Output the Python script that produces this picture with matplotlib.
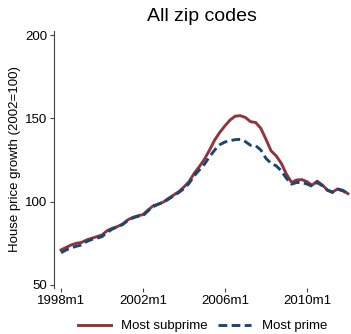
import matplotlib
matplotlib.use('Agg')

import matplotlib.pyplot as plt
import numpy as np

plt.rcParams['font.family'] = ['Liberation Sans', 'DejaVu Sans']

# quarterly observations, 1998q1 .. 2012q1
quarters = np.arange(1998.0, 2012.01, 0.25)

subprime = [71.0, 72.5, 74.0, 75.0, 75.5, 77.0, 78.0, 79.0,
            80.0, 82.5, 84.0, 85.0, 86.5, 89.0, 90.5, 91.5,
            92.2, 95.0, 97.5, 98.5, 99.8, 102.0, 104.0, 106.0,
            108.8, 112.0, 117.0, 121.0, 125.5, 131.0, 137.0, 141.6,
            145.5, 149.0, 151.3, 151.6, 150.5, 148.0, 147.5, 144.0,
            137.5, 130.5, 127.5, 123.0, 116.5, 111.5, 113.0, 113.2,
            112.0, 109.8, 112.3, 110.0, 107.0, 105.8, 107.6, 106.8,
            104.8]

prime = [69.3, 71.0, 72.3, 73.2, 74.0, 76.0, 77.3, 78.0,
         79.0, 81.5, 83.5, 84.8, 86.2, 88.5, 90.2, 91.2,
         91.5, 94.5, 97.0, 98.5, 99.6, 101.5, 103.5, 105.5,
         107.8, 111.0, 115.5, 119.0, 122.5, 127.0, 131.0, 134.2,
         135.8, 136.6, 137.2, 137.4, 136.0, 133.8, 133.6, 131.0,
         126.0, 123.0, 121.5, 118.5, 114.0, 110.5, 111.5, 111.4,
         110.6, 109.2, 111.5, 109.5, 106.8, 105.5, 107.4, 106.5,
         104.8]

xtick_pos = [1998, 2002, 2006, 2010]
xtick_labels = ['1998m1', '2002m1', '2006m1', '2010m1']
ytick_pos = [50, 100, 150, 200]

fig = plt.figure(figsize=(3.51, 3.34), dpi=100)
ax = fig.add_axes([0.154, 0.138, 0.843, 0.769])

ax.plot(quarters, subprime, color='#90353B', lw=2.1, label='Most subprime')
ax.plot(quarters, prime, color='#1A476F', lw=2.1, ls=(0, (3.0, 1.5)), label='Most prime')

ax.set_xlim(1997.66, 2012.1)
ax.set_ylim(48.2, 202.4)
ax.set_xticks(xtick_pos)
ax.set_xticklabels(xtick_labels)
ax.set_yticks(ytick_pos)

for s in ['top', 'right', 'bottom']:
    ax.spines[s].set_visible(False)
ax.spines['left'].set_color('#444444')
ax.spines['left'].set_linewidth(0.8)
ax.tick_params(axis='both', labelsize=9.5, color='#444444', width=0.8, length=3, pad=2)

ax.set_ylabel('House price growth (2002=100)', fontsize=9.5, labelpad=3)
ax.set_title('All zip codes', fontsize=14, pad=7)

fig.legend(loc='lower center', bbox_to_anchor=(0.577, -0.03), ncol=2, frameon=False,
           fontsize=9.5, handlelength=2.5, columnspacing=0.8, handletextpad=0.8)

plt.savefig('out.png', dpi=100)
plt.close()
